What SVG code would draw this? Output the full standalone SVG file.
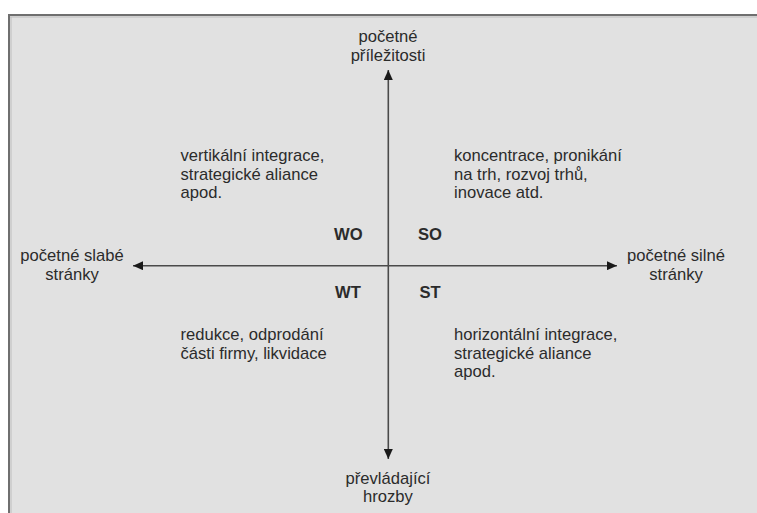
<svg xmlns="http://www.w3.org/2000/svg" width="757" height="513" viewBox="0 0 757 513">
  <style>
    text { font-family: "Liberation Sans", Arial, sans-serif; font-size: 16.6px; fill: #2b2b2b; }
    .c { text-anchor: middle; }
    .b { font-weight: bold; }
    .axis { stroke: #4a4a4a; stroke-width: 1.6; fill: none; }
  </style>
  <defs>
    <marker id="arr" viewBox="0 0 10 9" refX="10" refY="4.5" markerWidth="10" markerHeight="9" markerUnits="userSpaceOnUse" orient="auto">
      <path d="M0,0 L10,4.5 L0,9 Z" fill="#1a1a1a"/>
    </marker>
  </defs>
  <rect x="0" y="0" width="757" height="513" fill="#ffffff"/>
  <g id="frame">
    <rect x="8" y="14" width="760" height="510" fill="#e1e1e1"/>
    <line x1="8" y1="15" x2="757" y2="15" stroke="#6f6f6f" stroke-width="2"/>
    <line x1="9" y1="14" x2="9" y2="513" stroke="#6f6f6f" stroke-width="2"/>
    <line x1="10" y1="17" x2="757" y2="17" stroke="#bdbdbd" stroke-width="1"/>
    <line x1="11" y1="17" x2="11" y2="513" stroke="#bdbdbd" stroke-width="1"/>
  </g>
  <g id="connectors">
    <line class="axis" x1="388.3" y1="265.7" x2="388.3" y2="70" marker-end="url(#arr)"/>
    <line class="axis" x1="388.3" y1="265.7" x2="388.3" y2="459" marker-end="url(#arr)"/>
    <line class="axis" x1="388.3" y1="265.7" x2="133" y2="265.7" marker-end="url(#arr)"/>
    <line class="axis" x1="388.3" y1="265.7" x2="617" y2="265.7" marker-end="url(#arr)"/>
  </g>
  <g id="opportunities">
    <text class="c" x="388" y="42">početné</text>
    <text class="c" x="388" y="60.5">příležitosti</text>
  </g>
  <g id="threats">
    <text class="c" x="388" y="484">převládající</text>
    <text class="c" x="388" y="502">hrozby</text>
  </g>
  <g id="weaknesses">
    <text class="c" x="72" y="261">početné slabé</text>
    <text class="c" x="72" y="280">stránky</text>
  </g>
  <g id="strengths">
    <text class="c" x="676" y="261">početné silné</text>
    <text class="c" x="676" y="280">stránky</text>
  </g>
  <g id="wo-strategy">
    <text x="180.5" y="161">vertikální integrace,</text>
    <text x="180.5" y="179.6">strategické aliance</text>
    <text x="180.5" y="198.2">apod.</text>
  </g>
  <g id="so-strategy">
    <text x="454" y="161">koncentrace, pronikání</text>
    <text x="454" y="179.6">na trh, rozvoj trhů,</text>
    <text x="454" y="198.2">inovace atd.</text>
  </g>
  <g id="wt-strategy">
    <text x="180.5" y="340">redukce, odprodání</text>
    <text x="180.5" y="358.6">části firmy, likvidace</text>
  </g>
  <g id="st-strategy">
    <text x="454" y="340">horizontální integrace,</text>
    <text x="454" y="358.6">strategické aliance</text>
    <text x="454" y="377.2">apod.</text>
  </g>
  <g id="quadrant-labels">
    <text class="b" x="334" y="240">WO</text>
    <text class="b" x="418" y="240">SO</text>
    <text class="b" x="335" y="298.3">WT</text>
    <text class="b" x="419.5" y="298.3">ST</text>
  </g>
</svg>
